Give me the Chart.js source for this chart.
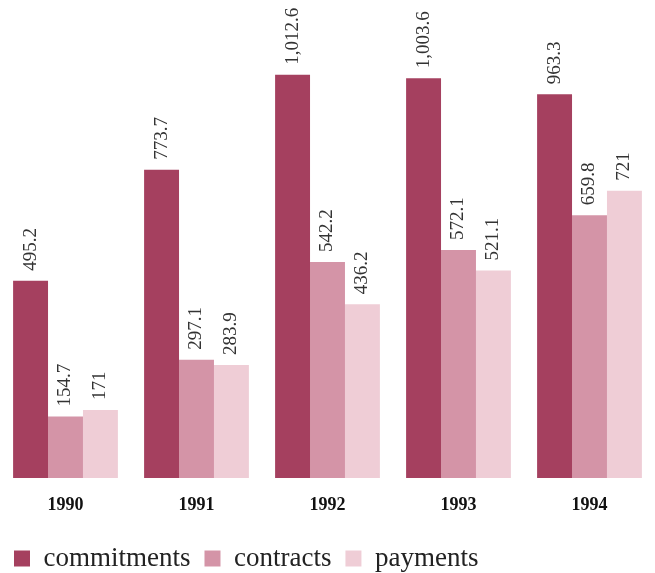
<!DOCTYPE html>
<html>
<head>
<meta charset="utf-8">
<script src="https://cdn.jsdelivr.net/npm/chart.js@4"></script>
<style>
  html, body { margin: 0; padding: 0; background: #fff; }
  #wrap { width: 655px; height: 573px; }
</style>
</head>
<body>
<div id="wrap"><canvas id="chart"></canvas></div>
<script>
  // data
  const years = ['1990', '1991', '1992', '1993', '1994'];
  const commitments = [495.2, 773.7, 1012.6, 1003.6, 963.3];
  const contracts = [154.7, 297.1, 542.2, 572.1, 659.8];
  const payments = [171, 283.9, 436.2, 521.1, 721];

  const serif = '"Liberation Serif", "DejaVu Serif", serif';

  // vertical value labels above each bar
  const valueLabels = {
    id: 'valueLabels',
    afterDatasetsDraw(chart) {
      const ctx = chart.ctx;
      ctx.save();
      ctx.font = '19px ' + serif;
      ctx.fillStyle = '#333';
      ctx.textAlign = 'left';
      ctx.textBaseline = 'middle';
      chart.data.datasets.forEach((ds, i) => {
        chart.getDatasetMeta(i).data.forEach((bar, j) => {
          const txt = ds.data[j].toLocaleString('en-US', { maximumFractionDigits: 1 });
          ctx.save();
          ctx.translate(bar.x, bar.y - 10);
          ctx.rotate(-Math.PI / 2);
          ctx.fillText(txt, 0, 0);
          ctx.restore();
        });
      });
      ctx.restore();
    }
  };

  new Chart(document.getElementById('chart'), {
    type: 'bar',
    data: {
      labels: years,
      datasets: [
        { label: 'commitments', data: commitments, backgroundColor: '#a5405f' },
        { label: 'contracts', data: contracts, backgroundColor: '#d494a7' },
        { label: 'payments', data: payments, backgroundColor: '#efcdd6' }
      ]
    },
    options: {
      responsive: true,
      maintainAspectRatio: false,
      animation: false,
      layout: { padding: { left: 0, right: 0, top: 0, bottom: -9 } },
      datasets: {
        bar: { categoryPercentage: 0.8, barPercentage: 1.0 }
      },
      plugins: {
        tooltip: { enabled: false },
        legend: {
          position: 'bottom',
          align: 'start',
          labels: {
            boxWidth: 16,
            boxHeight: 16,
            padding: 14,
            color: '#222',
            font: { family: serif, size: 27 }
          }
        }
      },
      scales: {
        x: {
          grid: { display: false },
          border: { display: false },
          afterFit(scale) { scale.height = 53; },
          ticks: {
            color: '#111',
            padding: 9,
            font: { family: serif, size: 18, weight: 'bold' }
          }
        },
        y: {
          display: false,
          min: 0,
          max: 1200
        }
      }
    },
    plugins: [valueLabels]
  });
</script>
</body>
</html>
